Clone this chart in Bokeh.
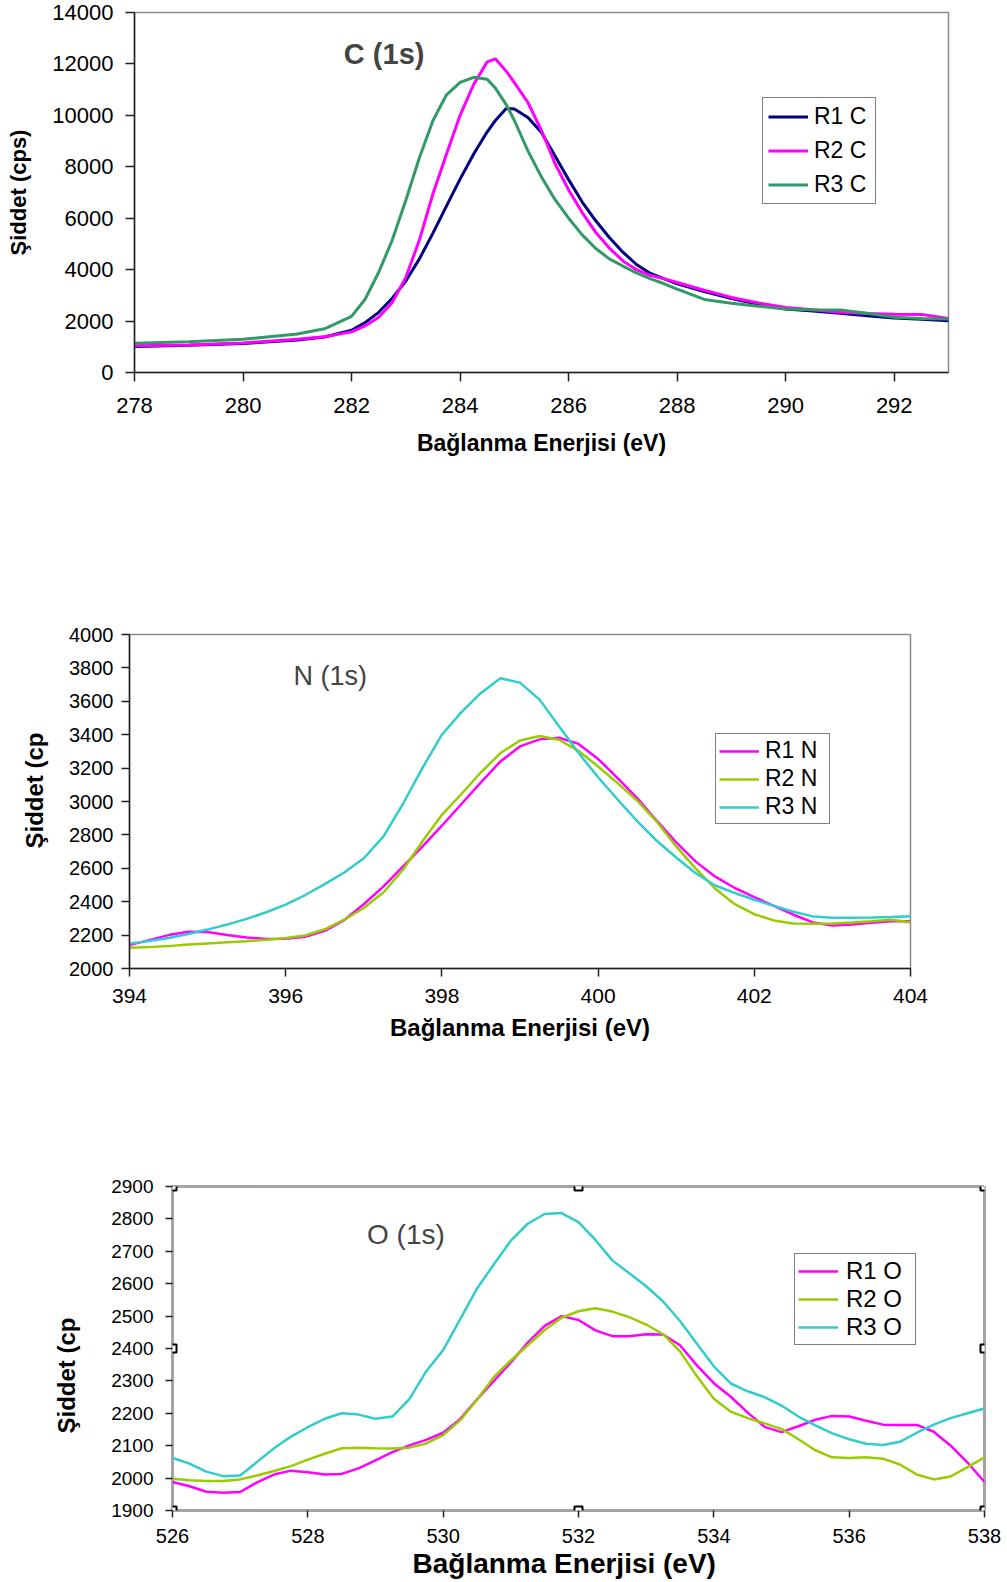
from bokeh.plotting import figure
from bokeh.models import FixedTicker, Range1d, Label, Title
from bokeh.embed import file_html
from bokeh.resources import INLINE

FONT = "Liberation Sans"

# ---------------- C (1s) ----------------
c_x = [278, 279, 280, 281, 281.5, 282, 282.25, 282.5, 282.75, 283, 283.25, 283.5,
       283.75, 284, 284.25, 284.5, 284.65, 284.85, 285, 285.25, 285.5, 285.75, 286,
       286.25, 286.5, 286.75, 287, 287.25, 287.5, 287.75, 288, 288.5, 289, 289.5,
       290, 290.5, 291, 291.5, 292, 292.5, 293]
c_r1 = [1010, 1060, 1130, 1260, 1380, 1640, 1940, 2340, 2890, 3560, 4420, 5420,
        6480, 7520, 8500, 9360, 9800, 10270, 10250, 9920, 9330, 8420, 7500,
        6630, 5900, 5250, 4680, 4200, 3860, 3650, 3450, 3150, 2880, 2650,
        2470, 2390, 2300, 2210, 2120, 2070, 2010]
c_r2 = [1040, 1070, 1150, 1290, 1390, 1580, 1810, 2150, 2720, 3700, 5150, 6950,
        8500, 10000, 11200, 12080, 12200, 11720, 11270, 10500, 9410, 8120, 7100,
        6220, 5450, 4840, 4340, 4000, 3780, 3650, 3500, 3200, 2920, 2700,
        2530, 2440, 2340, 2290, 2270, 2260, 2100]
c_r3 = [1140, 1200, 1290, 1500, 1700, 2180, 2850, 3900, 5150, 6700, 8350, 9800,
        10800, 11280, 11480, 11400, 11060, 10420, 9800, 8620, 7600, 6720, 6000,
        5350, 4820, 4420, 4140, 3870, 3650, 3460, 3240, 2840, 2690, 2580,
        2470, 2440, 2430, 2300, 2150, 2100, 2080]
c_xticks = [278, 280, 282, 284, 286, 288, 290, 292]
c_yticks = [0, 2000, 4000, 6000, 8000, 10000, 12000, 14000]

# ---------------- N (1s) ----------------
n_x = [394.0, 394.25, 394.5, 394.75, 395.0, 395.25, 395.5, 395.75, 396.0, 396.25,
       396.5, 396.75, 397.0, 397.25, 397.5, 397.75, 398.0, 398.25, 398.5, 398.75,
       399.0, 399.25, 399.5, 399.75, 400.0, 400.25, 400.5, 400.75, 401.0, 401.25,
       401.5, 401.75, 402.0, 402.25, 402.5, 402.75, 403.0, 403.25, 403.5, 403.75,
       404.0]
n_r1 = [2140, 2170, 2200, 2220, 2218, 2200, 2185, 2177, 2178, 2190,
        2225, 2290, 2385, 2490, 2610, 2730, 2855, 2985, 3115, 3240,
        3330, 3372, 3382, 3345, 3255, 3140, 3020, 2885, 2755, 2640,
        2550, 2482, 2428, 2375, 2322, 2276, 2258, 2263, 2274, 2283,
        2283]
n_r2 = [2124, 2128, 2134, 2143, 2150, 2157, 2163, 2172, 2182, 2198,
        2235, 2292, 2362, 2455, 2590, 2760, 2920, 3045, 3175, 3290,
        3365, 3392, 3370, 3302, 3210, 3110, 3005, 2880, 2731, 2598,
        2478, 2385, 2325, 2288, 2270, 2268, 2269, 2275, 2283, 2292,
        2277]
n_r3 = [2149, 2165, 2183, 2207, 2233, 2263, 2297, 2337, 2382, 2440,
        2505, 2575, 2660, 2790, 2985, 3200, 3400, 3535, 3650, 3738,
        3712, 3610, 3450, 3290, 3145, 3012, 2882, 2765, 2665, 2570,
        2497, 2452, 2412, 2375, 2340, 2312, 2304, 2304, 2306, 2309,
        2313]
n_xticks = [394, 396, 398, 400, 402, 404]
n_yticks = list(range(2000, 4001, 200))

# ---------------- O (1s) ----------------
o_x = [526.0, 526.25, 526.5, 526.75, 527.0, 527.25, 527.5, 527.75, 528.0, 528.25,
       528.5, 528.75, 529.0, 529.25, 529.5, 529.75, 530.0, 530.25, 530.5, 530.75,
       531.0, 531.25, 531.5, 531.75, 532.0, 532.25, 532.5, 532.75, 533.0, 533.25,
       533.5, 533.75, 534.0, 534.25, 534.5, 534.75, 535.0, 535.25, 535.5, 535.75,
       536.0, 536.25, 536.5, 536.75, 537.0, 537.25, 537.5, 537.75, 538.0]
o_r1 = [1988, 1975, 1958, 1955, 1957, 1987, 2011, 2023, 2018, 2011,
        2013, 2030, 2055, 2080, 2101, 2118, 2140, 2182, 2243, 2300,
        2357, 2418, 2470, 2500, 2488, 2456, 2438, 2438, 2444, 2443,
        2410, 2348, 2293, 2251, 2202, 2158, 2142, 2160, 2180, 2192,
        2190, 2177, 2165, 2164, 2164, 2143, 2100, 2048, 1988]
o_r2 = [1998, 1993, 1991, 1991, 1996, 2008, 2022, 2037, 2057, 2075,
        2092, 2094, 2092, 2091, 2094, 2107, 2133, 2178, 2242, 2312,
        2363, 2410, 2457, 2495, 2515, 2524, 2514, 2497, 2474, 2444,
        2391, 2314, 2245, 2205, 2185, 2169, 2152, 2120, 2086, 2064,
        2062, 2064, 2060, 2042, 2011, 1996, 2005, 2034, 2064]
o_r3 = [2062, 2045, 2020, 2006, 2008, 2050, 2092, 2128, 2157, 2183,
        2200, 2196, 2183, 2190, 2244, 2330, 2395, 2490, 2585, 2660,
        2733, 2785, 2815, 2818, 2790, 2735, 2672, 2632, 2592, 2545,
        2485, 2415, 2345, 2292, 2268, 2250, 2224, 2190, 2163, 2138,
        2120, 2106, 2102, 2112, 2140, 2165, 2185, 2200, 2215]
o_xticks = [526, 528, 530, 532, 534, 536, 538]
o_yticks = list(range(1900, 2901, 100))

X_LABEL = "Bağlanma Enerjisi (eV)"
Y_LABEL_FULL = "Şiddet (cps)"
Y_LABEL_CUT = "Şiddet (cp"


def base_figure(height, xr, yr, borders, xticks, yticks, xtick_size, ytick_size,
                tick_out, xstand, ystand):
    left, right, top, bottom = borders
    p = figure(width=1007, height=height, x_range=Range1d(*xr), y_range=Range1d(*yr),
               output_backend="svg", toolbar_location=None,
               min_border_left=left, min_border_right=right,
               min_border_top=top, min_border_bottom=bottom)
    p.xgrid.visible = False
    p.ygrid.visible = False
    p.background_fill_color = "white"
    p.border_fill_color = "white"
    p.outline_line_color = "#8c8c8c"
    p.outline_line_width = 1.5
    p.xaxis.ticker = FixedTicker(ticks=xticks, minor_ticks=[])
    p.yaxis.ticker = FixedTicker(ticks=yticks, minor_ticks=[])
    for ax, size in ((p.xaxis, xtick_size), (p.yaxis, ytick_size)):
        ax.axis_line_color = "#202020"
        ax.axis_line_width = 1.5
        ax.major_tick_line_color = "#202020"
        ax.major_tick_line_width = 1.5
        ax.major_tick_in = 0
        ax.major_tick_out = tick_out
        ax.minor_tick_out = 0
        ax.major_label_text_font = FONT
        ax.major_label_text_font_size = f"{size}px"
        ax.major_label_text_color = "#000000"
        ax.axis_label_text_font = FONT
        ax.axis_label_text_font_style = "bold"
        ax.axis_label_text_color = "#000000"
    p.xaxis.major_label_standoff = xstand
    p.yaxis.major_label_standoff = ystand
    return p


def side_title(p, text, side, offset, standoff, size):
    """Axis title that starts `offset` px from the frame corner along its side."""
    p.add_layout(Title(text=text, align="left", offset=offset, standoff=standoff,
                       text_font=FONT, text_font_style="bold",
                       text_font_size=f"{size}px", text_color="#000000"), side)


def style_legend(p, loc, size, glyph_w, row_h, spacing, padding, standoff=6, label_w=20):
    lg = p.legend[0]
    lg.location = loc
    lg.label_text_font = FONT
    lg.label_text_font_size = f"{size}px"
    lg.label_text_color = "#000000"
    lg.glyph_width = glyph_w
    lg.glyph_height = row_h
    lg.label_height = row_h
    lg.label_width = label_w
    lg.label_standoff = standoff
    lg.spacing = spacing
    lg.padding = padding
    lg.margin = 0
    lg.border_line_color = "#000000"
    lg.border_line_width = 1.5
    lg.background_fill_color = "white"
    lg.background_fill_alpha = 1.0


# ---- chart 1 : canvas 1007x520, frame x 134..948, y 12..372 ----
p1 = base_figure(520, (278, 293), (0, 14000), (134, 59, 12, 148), c_xticks, c_yticks,
                 22, 22, 9, 16, 12)
p1.xaxis.axis_label = X_LABEL
p1.xaxis.axis_label_text_font_size = "23px"
p1.xaxis.axis_label_standoff = 14
p1.yaxis.axis_label = Y_LABEL_FULL
p1.yaxis.axis_label_text_font_size = "22px"
p1.yaxis.axis_label_standoff = 18
p1.line(c_x, c_r1, line_color="#000080", line_width=3, legend_label="R1 C")
p1.line(c_x, c_r2, line_color="#FF00FF", line_width=3, legend_label="R2 C")
p1.line(c_x, c_r3, line_color="#339966", line_width=3, legend_label="R3 C")
p1.add_layout(Label(x=282.6, y=12400, text="C (1s)", text_font=FONT, text_font_style="bold",
                    text_font_size="29px", text_align="center", text_baseline="middle"))
style_legend(p1, (628, 168), 23, 40, 27, 7, 5, label_w=56)

# ---- chart 2 : canvas 1007x580, frame x 125..910, y 114..448 ----
p2 = base_figure(580, (394, 404), (2000, 4000), (125, 97, 114, 132), n_xticks, n_yticks,
                 21, 20, 8, 12, 8)
p2.xaxis.axis_label = X_LABEL
p2.xaxis.axis_label_text_font_size = "24px"
p2.xaxis.axis_label_standoff = 8
side_title(p2, Y_LABEL_CUT, "left", 120, 37, 24)
p2.line(n_x, n_r1, line_color="#FF00FF", line_width=2.5, legend_label="R1 N")
p2.line(n_x, n_r2, line_color="#99CC00", line_width=2.5, legend_label="R2 N")
p2.line(n_x, n_r3, line_color="#33CCCC", line_width=2.5, legend_label="R3 N")
p2.add_layout(Label(x=396.57, y=3750, text="N (1s)", text_font=FONT,
                    text_font_size="27px", text_align="center", text_baseline="middle"))
style_legend(p2, (586, 144), 23, 40, 24, 1, 3, label_w=61)

# ---- chart 3 : canvas 1007x482, frame x 172..984, y 86..410 ----
p3 = base_figure(482, (526, 538), (1900, 2900), (172, 23, 86, 72), o_xticks, o_yticks,
                 20, 19, 7, 11, 12)
p3.outline_line_color = "#4a4a4a"
p3.outline_line_width = 3
p3.outline_line_dash = "1 1"
p3.xaxis.axis_line_color = None
p3.yaxis.axis_line_color = None
side_title(p3, Y_LABEL_CUT, "left", 77, 57, 24)
side_title(p3, X_LABEL, "below", 240, 0, 28)
p3.line(o_x, o_r1, line_color="#FF00FF", line_width=2.5, legend_label="R1 O")
p3.line(o_x, o_r2, line_color="#99CC00", line_width=2.5, legend_label="R2 O")
p3.line(o_x, o_r3, line_color="#33CCCC", line_width=2.5, legend_label="R3 O")
p3.add_layout(Label(x=529.45, y=2752, text="O (1s)", text_font=FONT,
                    text_font_size="28px", text_align="center", text_baseline="middle"))
style_legend(p3, (622, 165), 24, 40, 24, 0, 3, standoff=8, label_w=66)

# selection handles on the chart frame
hx0, hx1 = o_xticks[0], o_xticks[-1]
hy0, hy1 = o_yticks[0], o_yticks[-1]
hxm, hym = (hx0 + hx1) / 2, (hy0 + hy1) / 2
p3.scatter([hx0, hxm, hx1, hx0, hx1, hx0, hxm, hx1],
           [hy1, hy1, hy1, hym, hym, hy0, hy0, hy0],
           marker="square", size=8, fill_color="white", line_color="black", line_width=2)

# each chart is its own root so their frames are laid out independently
open("out.html", "w").write(file_html([p1, p2, p3], INLINE))
